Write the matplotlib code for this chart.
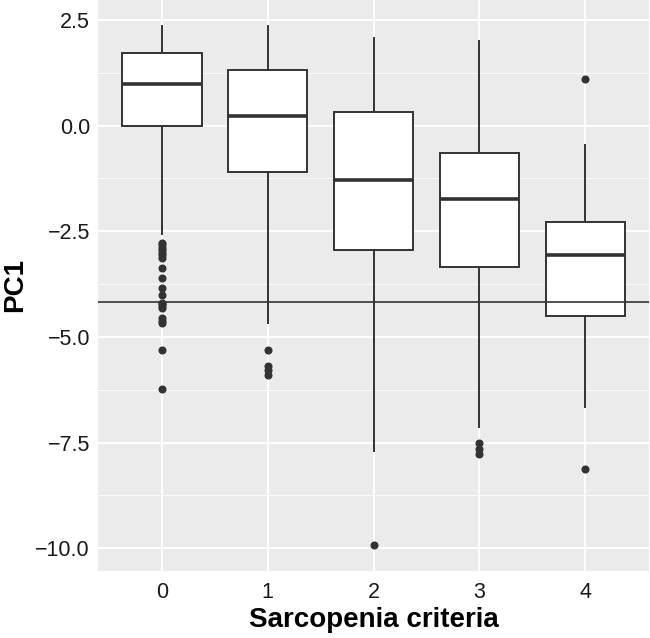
import matplotlib.pyplot as plt

groups = ['0', '1', '2', '3', '4']
whisker_low = [-2.56, -4.66, -7.70, -7.13, -6.65]
q1 = [0.0, -1.09, -2.95, -3.34, -4.51]
median = [0.99, 0.22, -1.29, -1.73, -3.07]
q3 = [1.72, 1.31, 0.32, -0.65, -2.29]
whisker_high = [2.35, 2.35, 2.07, 1.99, -0.45]
outliers = [
    [-2.77, -2.83, -2.89, -2.95, -3.01, -3.07, -3.13, -3.36, -3.60, -3.84,
     -4.00, -4.19, -4.23, -4.27, -4.31, -4.55, -4.63, -4.68, -5.30, -6.24],
    [-5.30, -5.69, -5.79, -5.90],
    [-9.93],
    [-7.52, -7.64, -7.76],
    [1.11, -8.12],
]
cutoff = -4.18

stats = []
for i, g in enumerate(groups):
    stats.append({
        'label': g,
        'whislo': whisker_low[i],
        'q1': q1[i],
        'med': median[i],
        'q3': q3[i],
        'whishi': whisker_high[i],
        'fliers': outliers[i],
    })

plt.rcParams['font.family'] = ['Liberation Sans', 'DejaVu Sans']

fig = plt.figure(figsize=(6.5, 6.38), dpi=100)
ax = fig.add_axes([0.1512, 0.1055, 0.847, 0.8945])
ax.set_facecolor('#EBEBEB')

# ggplot-like grid
for y in [-8.75, -6.25, -3.75, -1.25, 1.25]:
    ax.axhline(y, color='white', lw=0.6, zorder=0)
for y in [-10, -7.5, -5, -2.5, 0, 2.5]:
    ax.axhline(y, color='white', lw=1.4, zorder=0)
for x in range(len(groups)):
    ax.axvline(x, color='white', lw=1.4, zorder=0)

dark = '#333333'
ax.bxp(stats, positions=range(len(groups)), widths=0.75, patch_artist=True,
       showcaps=False,
       boxprops=dict(facecolor='white', edgecolor=dark, linewidth=1.4),
       medianprops=dict(color=dark, linewidth=2.6),
       whiskerprops=dict(color=dark, linewidth=1.4),
       flierprops=dict(marker='o', markerfacecolor=dark, markeredgecolor=dark,
                       markersize=4.8, linestyle='none'),
       zorder=2)

ax.axhline(cutoff, color=dark, lw=1.2, zorder=3)

ax.set_xlim(-0.6, 4.6)
ax.set_ylim(-10.53, 2.97)
ax.set_yticks([-10, -7.5, -5, -2.5, 0, 2.5])
ax.set_yticklabels(['\u221210.0', '\u22127.5', '\u22125.0', '\u22122.5', '0.0', '2.5'])
ax.set_xticks(range(len(groups)))
ax.set_xticklabels(groups)
ax.tick_params(length=0, labelsize=15.5, labelcolor='#1a1a1a', pad=6)
ax.tick_params(axis='x', pad=8)
for s in ax.spines.values():
    s.set_visible(False)

ax.set_xlabel('Sarcopenia criteria', fontsize=20, fontweight='bold', labelpad=3)
ax.set_ylabel('PC1', fontsize=20, fontweight='bold', labelpad=5)

fig.savefig('out.png', dpi=100)
